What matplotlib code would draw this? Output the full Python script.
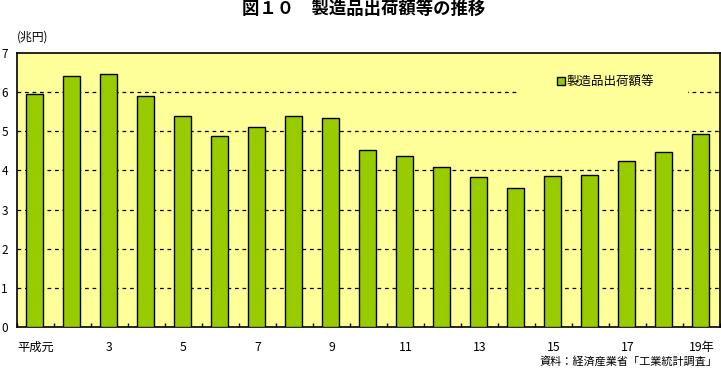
import matplotlib
matplotlib.use("Agg")
import matplotlib.pyplot as plt
from matplotlib.patches import Rectangle
import numpy as np

plt.rcParams['font.family'] = ['Noto Sans CJK JP', 'DejaVu Sans']

years = ["平成元", "2", "3", "4", "5", "6", "7", "8", "9", "10",
         "11", "12", "13", "14", "15", "16", "17", "18", "19年"]
values = [5.94, 6.40, 6.47, 5.89, 5.38, 4.89, 5.12, 5.38, 5.35, 4.53,
          4.36, 4.08, 3.83, 3.54, 3.85, 3.88, 4.23, 4.48, 4.94]
series_name = "製造品出荷額等"
title = "図１０　製造品出荷額等の推移"
unit = "(兆円)"
source = "資料：経済産業省「工業統計調査」"
yticks = [0, 1, 2, 3, 4, 5, 6, 7]

fig = plt.figure(figsize=(7.21, 3.69), dpi=100)
ax = fig.add_axes([17/721, 1-327/369, 703/721, 274/369])
ax.set_facecolor('#FFFF99')

x = np.arange(len(values))
bars = ax.bar(x - 0.03, values, width=0.48, color='#99CC00', edgecolor='black',
              linewidth=1.0, zorder=3, label=series_name)

ax.set_xlim(-0.5, len(values) - 0.5)
ax.set_ylim(0, 7)
ax.set_yticks(yticks)
ax.set_yticklabels([str(v) for v in yticks], fontsize=8.5)
ax.tick_params(axis='y', length=0, pad=6.5)

for v in yticks[1:-1]:
    ax.axhline(v, color='black', linestyle=(0, (3, 3)), linewidth=0.9, zorder=1)

lab_idx = list(range(0, len(values), 2))
ax.set_xticks(lab_idx)
ax.set_xticklabels([years[i] for i in lab_idx], fontsize=8.8)
ax.tick_params(axis='x', which='major', length=0, pad=10)
ax.set_xticks(np.arange(-0.5, len(values) - 0.4, 1.0), minor=True)
ax.tick_params(axis='x', which='minor', direction='in', length=3, width=1, color='black')

for s in ax.spines.values():
    s.set_linewidth(1.2)
    s.set_color('black')

# legend background patch (breaks gridline)
ax.add_patch(Rectangle((500/703, (327-97)/274), 171/703, 30/274, transform=ax.transAxes,
                       facecolor='#FFFF99', edgecolor='none', zorder=2))
leg = ax.legend(loc='center left', bbox_to_anchor=(540/703, (327-82)/274), frameon=False,
                fontsize=9, handlelength=0.6, handleheight=0.6, handletextpad=0.2,
                borderpad=0, borderaxespad=0)

fig.text(364/721, 1-9/369, title, ha='center', va='center', fontsize=12.5, fontweight='bold')
fig.text(17/721, 1-37/369, unit, ha='left', va='center', fontsize=8.5)
fig.text(718/721, 1-361/369, source, ha='right', va='center', fontsize=8)

fig.savefig('out.png', dpi=100, facecolor='white')
